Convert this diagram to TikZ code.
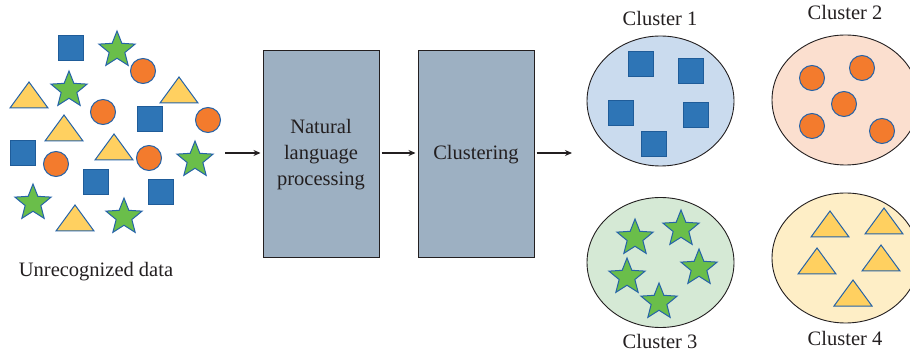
\documentclass[tikz,border=0pt]{standalone}
\usepackage{fontspec}
\setmainfont{Liberation Serif}
\usetikzlibrary{shapes.geometric,arrows.meta}
\definecolor{sqblue}{HTML}{2E75B6}
\definecolor{sqedge}{HTML}{1F5C99}
\definecolor{corange}{HTML}{F37B2D}
\definecolor{shapeedge}{HTML}{2563A8}
\definecolor{tyellow}{HTML}{FFD060}
\definecolor{sgreen}{HTML}{6ABE4A}
\definecolor{boxfill}{HTML}{9DB0C2}
\definecolor{eblue}{HTML}{CADBEE}
\definecolor{epeach}{HTML}{FBDFCF}
\definecolor{egreen}{HTML}{D5E9D5}
\definecolor{eyellow}{HTML}{FEEEC6}
\definecolor{ink}{HTML}{231F20}
\newcommand\mytri[2]{\draw[tri] (#1-19,#2) -- (#1+19,#2) -- (#1,#2-26) -- cycle;}
\begin{document}
\begin{tikzpicture}[x=1pt,y=-1pt,
  sq/.style={rectangle, fill=sqblue, draw=sqedge, line width=0.8pt, minimum size=25pt, inner sep=0pt},
  circ/.style={circle, fill=corange, draw=shapeedge, line width=1pt, minimum size=25pt, inner sep=0pt},
  stp/.style={star, star points=5, star point ratio=2.3, fill=sgreen, draw=shapeedge, line width=1pt, minimum size=38pt, inner sep=0pt},
  tri/.style={fill=tyellow, draw=shapeedge, line width=1pt, line join=miter},
  procbox/.style={rectangle, fill=boxfill, draw=ink, line width=1pt, minimum width=116pt, minimum height=207pt, align=center, text=ink, font=\fontsize{20.5}{26}\selectfont},
  clus/.style={ellipse, draw=ink, line width=0.9pt, minimum width=147pt, minimum height=130pt, inner sep=0pt},
  lab/.style={anchor=base, text=ink, font=\fontsize{20.5}{26}\selectfont, inner sep=0pt},
  conn/.style={draw=ink, line width=1.3pt, -{Stealth[length=7pt,width=6pt]}}
]
\useasboundingbox (0,0) rectangle (910,355);

% unrecognized data
\node[sq] (s1) at (71,48) {};
\node[stp] (t1) at (117,50) {};
\node[circ] (c1) at (143,71) {};
\mytri{29}{108}
\node[stp] (t2) at (69,90) {};
\node[circ] (c2) at (103,112) {};
\mytri{179}{103}
\node[sq] (s2) at (150,119) {};
\node[circ] (c3) at (208,120) {};
\mytri{64}{141}
\node[sq] (s3) at (23,153) {};
\node[circ] (c4) at (56,164) {};
\mytri{114}{160}
\node[circ] (c5) at (149,158) {};
\node[stp] (t3) at (195,160) {};
\node[sq] (s4) at (96,182) {};
\node[sq] (s5) at (161,192) {};
\node[stp] (t4) at (33,203) {};
\mytri{75}{231}
\node[stp] (t5) at (124,217) {};
\node[lab] (udata) at (96,277) {Unrecognized data};

% process boxes
\node[procbox] (nlp) at (321,154.5) {Natural\\language\\processing};
\node[procbox] (clu) at (476,154.5) {Clustering};

\coordinate (a0) at (225,153);
\coordinate (a3) at (572,153);
\draw[conn] (a0) -- ([xshift=-2pt]nlp.west |- a0);
\draw[conn] ([xshift=2pt]nlp.east |- a0) -- ([xshift=-2pt]clu.west |- a0);
\draw[conn] ([xshift=2pt]clu.east |- a0) -- (a3);

% clusters
\node[clus, fill=eblue] (k1) at (660.5,101) {};
\node[clus, fill=epeach] (k2) at (845.5,100) {};
\node[clus, fill=egreen] (k3) at (660.5,262.5) {};
\node[clus, fill=eyellow] (k4) at (845.5,258) {};

\node[lab] (l1) at (660,26) {Cluster 1};
\node[lab] (l2) at (845,20) {Cluster 2};
\node[lab] (l3) at (660,348) {Cluster 3};
\node[lab] (l4) at (845,345) {Cluster 4};

\node[sq] (k1a) at (641,64) {};
\node[sq] (k1b) at (691,71) {};
\node[sq] (k1c) at (621,113) {};
\node[sq] (k1d) at (696,115) {};
\node[sq] (k1e) at (654,144) {};

\node[circ] (k2a) at (812,78) {};
\node[circ] (k2b) at (862,68) {};
\node[circ] (k2c) at (844,104) {};
\node[circ] (k2d) at (812,126) {};
\node[circ] (k2e) at (882,131) {};

\node[stp] (k3a) at (635,238) {};
\node[stp] (k3b) at (681,229) {};
\node[stp] (k3c) at (627,277) {};
\node[stp] (k3d) at (699,268) {};
\node[stp] (k3e) at (659,302) {};

\mytri{830}{237}
\mytri{884}{234}
\mytri{817}{274}
\mytri{881}{271}
\mytri{853}{306}
\end{tikzpicture}
\end{document}
